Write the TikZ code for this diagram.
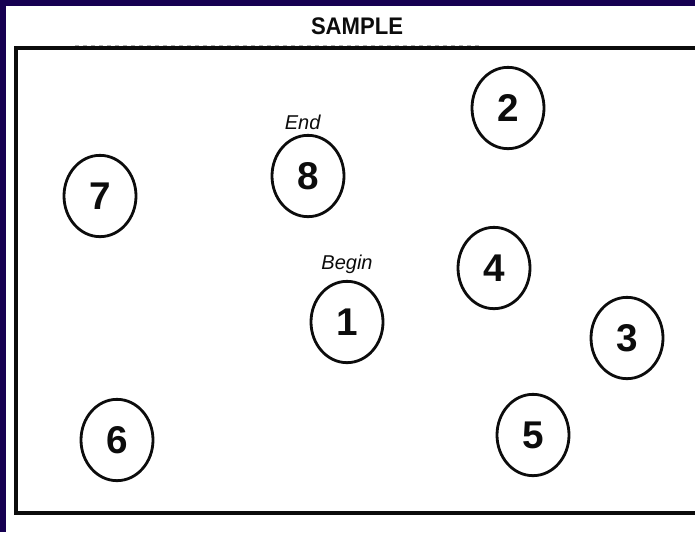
\documentclass[tikz,border=0pt]{standalone}
\usepackage{fontspec}
\setmainfont{Liberation Sans}
\usetikzlibrary{shapes.geometric,positioning}

\definecolor{smnavy}{RGB}{22,0,82}
\definecolor{smink}{RGB}{12,12,12}
\definecolor{smshade}{RGB}{175,175,175}

\begin{document}
\begin{tikzpicture}[
  x=0.75pt,
  y=-0.75pt,
  every node/.style={inner sep=0pt, outer sep=0pt},
  stop/.style={draw=smink, ellipse, line width=2.1pt, minimum width=54pt, minimum height=61pt,
    font=\bfseries\fontsize{29}{29}\selectfont, text=smink},
  tag/.style={font=\itshape\fontsize{15}{15}\selectfont, text=smink},
  title/.style={font=\bfseries\fontsize{18}{18}\selectfont, text=smink, xscale=0.92},
  frame/.style={draw=smink, line width=2.8pt}
]

  \useasboundingbox (0,0) rectangle (695,532);
  \fill[white] (0,0) rectangle (695,532);

  % dark edge of the slide
  \fill[smnavy] (0,0) rectangle (695,6);
  \fill[smnavy] (0,0) rectangle (6,532);

  % sample frame
  \node[title] (title) at (357,26) {SAMPLE};
  \draw[smshade, dashed, line width=0.6pt] (75,45.5) -- (480,45.5);
  \draw[frame] (695,48) -- (16,48) -- (16,513) -- (695,513);

  % stops
  \node[stop] (n1) at (347,322) {1};
  \node[stop] (n2) at (508,108) {2};
  \node[stop] (n3) at (627,338) {3};
  \node[stop] (n4) at (494,268) {4};
  \node[stop] (n5) at (533,435) {5};
  \node[stop] (n6) at (117,440) {6};
  \node[stop] (n7) at (100,196) {7};
  \node[stop] (n8) at (308,176) {8};

  % start and finish
  \node[tag, above=6pt of n1] (begin) {Begin};
  \node[tag, above=4pt of n8, xshift=-4pt] (end) {End};

\end{tikzpicture}
\end{document}
